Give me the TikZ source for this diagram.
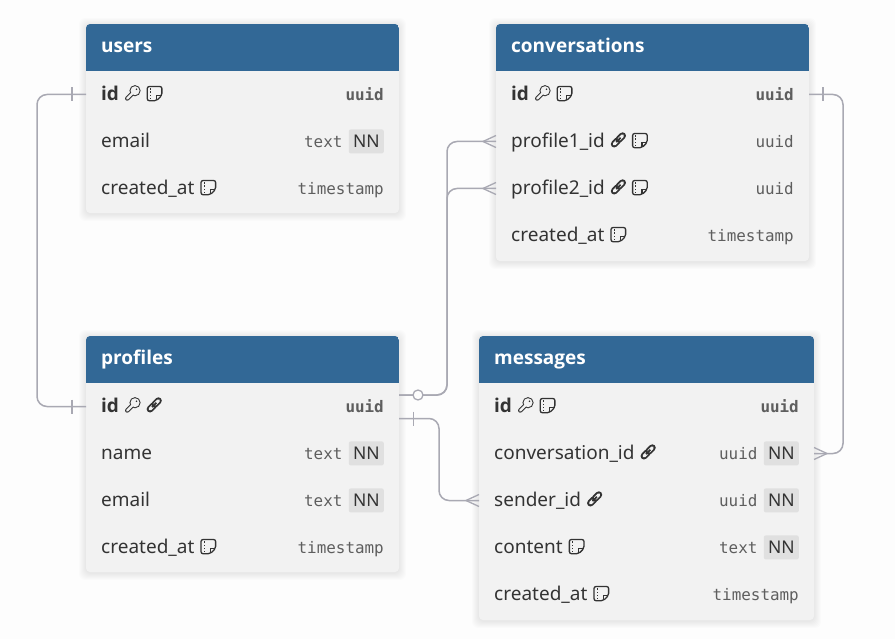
\documentclass[tikz,border=0pt]{standalone}
\usepackage{fontspec}
\setmainfont{Noto Sans}
\setmonofont{DejaVu Sans Mono}
\newfontfamily\heavyface{Open Sans}
\usetikzlibrary{positioning}

\definecolor{headblue}{HTML}{326896}
\definecolor{rowgray}{HTML}{F2F2F2}
\definecolor{pagegray}{HTML}{FDFDFD}
\definecolor{inkgray}{HTML}{333333}
\definecolor{typegray}{HTML}{5E5E5E}
\definecolor{badgegray}{HTML}{E0E0E0}
\definecolor{linkgray}{HTML}{A9A9B3}

\tikzset{
  tablebox/.style={fill=rowgray,rounded corners=4pt,inner sep=0pt,outer sep=0pt,anchor=north west},
  rowbox/.style={minimum height=47pt,inner sep=0pt,outer sep=0pt},
  titletext/.style={text=white,inner sep=0pt,font=\fontsize{19}{22}\selectfont\heavyface\bfseries,anchor=base west},
  coltext/.style={text=inkgray,inner sep=0pt,font=\fontsize{19}{22}\selectfont,anchor=base west},
  typetext/.style={text=typegray,inner sep=0pt,font=\fontsize{15.9}{20}\selectfont\ttfamily,anchor=base east},
  nnbadge/.style={fill=badgegray,text=inkgray,rounded corners=2pt,inner sep=0pt,minimum width=35pt,
    minimum height=24pt,text depth=5.5pt,text height=18.5pt,font=\fontsize{17.5}{20}\selectfont,anchor=base east},
  relation/.style={draw=linkgray,line width=1.5pt,rounded corners=10pt},
  endmark/.style={draw=linkgray,line width=1.3pt},
  optcircle/.style={circle,draw=linkgray,line width=1.3pt,fill=pagegray,minimum size=10pt,inner sep=0pt}
}

\newcommand{\pkname}{{\heavyface\bfseries id}}

% small glyphs after a column name
\newcommand{\keyicon}{\hspace{6pt}\tikz[x=1pt,y=1pt,baseline=0pt]{
  \draw[inkgray,line width=4.4pt,line cap=round] (2.4,2.4) -- (9,9);
  \fill[inkgray] (10.2,10.2) circle (5.6);
  \draw[rowgray,line width=2.2pt,line cap=round] (2.4,2.4) -- (9,9);
  \fill[rowgray] (10.2,10.2) circle (4.5);
  \fill[inkgray] (11.7,11.7) circle (.9);
}}
\newcommand{\noteicon}{\hspace{6pt}\tikz[x=1pt,y=1pt,baseline=0pt]{
  \draw[inkgray,line width=1.3pt,rounded corners=2pt] (.7,.2) -- (10,.2) -- (15.3,5.5) -- (15.3,14.4) -- (.7,14.4) -- cycle;
  \draw[inkgray,line width=1.3pt] (10,.6) -- (10,5.4) -- (15,5.4);
  \draw[inkgray,line width=1.1pt,dash pattern=on 1.2pt off 1.9pt] (4,2) -- (4,13);
}}
\newcommand{\linkicon}{\hspace{6pt}\tikz[x=1pt,y=1pt,baseline=0pt]{
  \draw[inkgray,line width=6.8pt,line cap=round] (3.8,3.8) -- (7.4,7.4);
  \draw[rowgray,line width=3.2pt,line cap=round] (3.8,3.8) -- (7.4,7.4);
  \draw[inkgray,line width=6.8pt,line cap=round] (8.6,8.6) -- (12.2,12.2);
  \draw[rowgray,line width=3.2pt,line cap=round] (8.6,8.6) -- (12.2,12.2);
  \draw[inkgray,line width=1.8pt] (5.8,5.8) -- (10.2,10.2);
}}

% name, x, y, width, height, title
\newcommand{\entity}[6]{
  \foreach \s in {1,...,7}
    \fill[black,opacity=.01,rounded corners=6pt] (#2-\s,#3-\s+1) rectangle (#2+#4+\s,#3+#5+\s+1);
  \node[tablebox,minimum width=#4,minimum height=#5] (#1) at (#2,#3) {};
  \begin{scope}
    \clip[rounded corners=4pt] (#1.north west) rectangle (#1.south east);
    \fill[headblue] (#1.north west) rectangle ([yshift=-47pt]#1.north east);
  \end{scope}
  \node[titletext] (#1title) at ([xshift=15pt,yshift=-28.7pt]#1.north west) {#6};
}
% name, position, width, column, type
\newcommand{\colrow}[5]{
  \node[rowbox,minimum width=#3,#2] (#1) {};
  \node[coltext] (#1col) at ([xshift=15pt,yshift=-6.4pt]#1.west) {#4};
  \node[typetext] (#1type) at ([xshift=-15pt,yshift=-6.4pt]#1.east) {#5};
}
\newcommand{\nncolrow}[5]{
  \node[rowbox,minimum width=#3,#2] (#1) {};
  \node[coltext] (#1col) at ([xshift=15pt,yshift=-6.4pt]#1.west) {#4};
  \node[nnbadge] (#1nn) at ([xshift=-15pt,yshift=-6.4pt]#1.east) {NN};
  \node[typetext] (#1type) at ([xshift=-6pt]#1nn.base west) {#5};
}

\begin{document}
\begin{tikzpicture}[x=1pt,y=-1pt]
  \useasboundingbox (0,0) rectangle (895,639);
  \fill[pagegray] (0,0) rectangle (895,639);

  \entity{users}{86}{24}{313}{189}{users}
  \colrow{usersid}{below=47pt of users.north}{313}{\pkname\keyicon\noteicon}{\textbf{uuid}}
  \nncolrow{usersemail}{below=0pt of usersid}{313}{email}{text}
  \colrow{userscreated}{below=0pt of usersemail}{313}{created\_at\noteicon}{timestamp}

  \entity{conv}{496}{24}{313}{237}{conversations}
  \colrow{convid}{below=47pt of conv.north}{313}{\pkname\keyicon\noteicon}{\textbf{uuid}}
  \colrow{convone}{below=0pt of convid}{313}{profile1\_id\linkicon\noteicon}{uuid}
  \colrow{convtwo}{below=0pt of convone}{313}{profile2\_id\linkicon\noteicon}{uuid}
  \colrow{convcreated}{below=0pt of convtwo}{313}{created\_at\noteicon}{timestamp}

  \entity{prof}{86}{336}{313}{236}{profiles}
  \colrow{profid}{below=47pt of prof.north}{313}{\pkname\keyicon\linkicon}{\textbf{uuid}}
  \nncolrow{profname}{below=0pt of profid}{313}{name}{text}
  \nncolrow{profemail}{below=0pt of profname}{313}{email}{text}
  \colrow{profcreated}{below=0pt of profemail}{313}{created\_at\noteicon}{timestamp}

  \entity{msg}{479}{336}{335}{284}{messages}
  \colrow{msgid}{below=47pt of msg.north}{335}{\pkname\keyicon\noteicon}{\textbf{uuid}}
  \nncolrow{msgconv}{below=0pt of msgid}{335}{conversation\_id\linkicon}{uuid}
  \nncolrow{msgsender}{below=0pt of msgconv}{335}{sender\_id\linkicon}{uuid}
  \nncolrow{msgcontent}{below=0pt of msgsender}{335}{content\noteicon}{text}
  \colrow{msgcreated}{below=0pt of msgcontent}{335}{created\_at\noteicon}{timestamp}

  % relations
  \coordinate (leftbus) at (37,0);
  \coordinate (convbus) at (447,0);
  \coordinate (senderbus) at (439,0);
  \coordinate (rightbus) at (843,0);

  \draw[relation] (usersid.west) -| (leftbus |- profid.west) -- (profid.west);
  \draw[endmark] ([xshift=-14pt,yshift=7pt]usersid.west) -- ([xshift=-14pt,yshift=-7pt]usersid.west);
  \draw[endmark] ([xshift=-14pt,yshift=7pt]profid.west) -- ([xshift=-14pt,yshift=-7pt]profid.west);

  \draw[relation] ([yshift=11.5pt]profid.east) -| (convbus |- convone.west) -- (convone.west);
  \draw[relation] ([yshift=11.5pt]profid.east) -| (convbus |- convtwo.west) -- (convtwo.west);
  \node[optcircle] (profopt) at ([xshift=19pt,yshift=11.5pt]profid.east) {};
  \draw[endmark] ([xshift=-13pt]convone.west) -- ([yshift=6pt]convone.west);
  \draw[endmark] ([xshift=-13pt]convone.west) -- ([yshift=-6pt]convone.west);
  \draw[endmark] ([xshift=-13pt]convtwo.west) -- ([yshift=6pt]convtwo.west);
  \draw[endmark] ([xshift=-13pt]convtwo.west) -- ([yshift=-6pt]convtwo.west);

  \draw[relation] ([yshift=-12pt]profid.east) -| (senderbus |- msgsender.west) -- (msgsender.west);
  \draw[endmark] ([xshift=14.5pt,yshift=-5pt]profid.east) -- ([xshift=14.5pt,yshift=-19pt]profid.east);
  \draw[endmark] ([xshift=-13pt]msgsender.west) -- ([yshift=6pt]msgsender.west);
  \draw[endmark] ([xshift=-13pt]msgsender.west) -- ([yshift=-6pt]msgsender.west);

  \draw[relation] (convid.east) -| (rightbus |- msgconv.east) -- (msgconv.east);
  \draw[endmark] ([xshift=14pt,yshift=7pt]convid.east) -- ([xshift=14pt,yshift=-7pt]convid.east);
  \draw[endmark] ([xshift=13pt]msgconv.east) -- ([yshift=6pt]msgconv.east);
  \draw[endmark] ([xshift=13pt]msgconv.east) -- ([yshift=-6pt]msgconv.east);
\end{tikzpicture}
\end{document}
